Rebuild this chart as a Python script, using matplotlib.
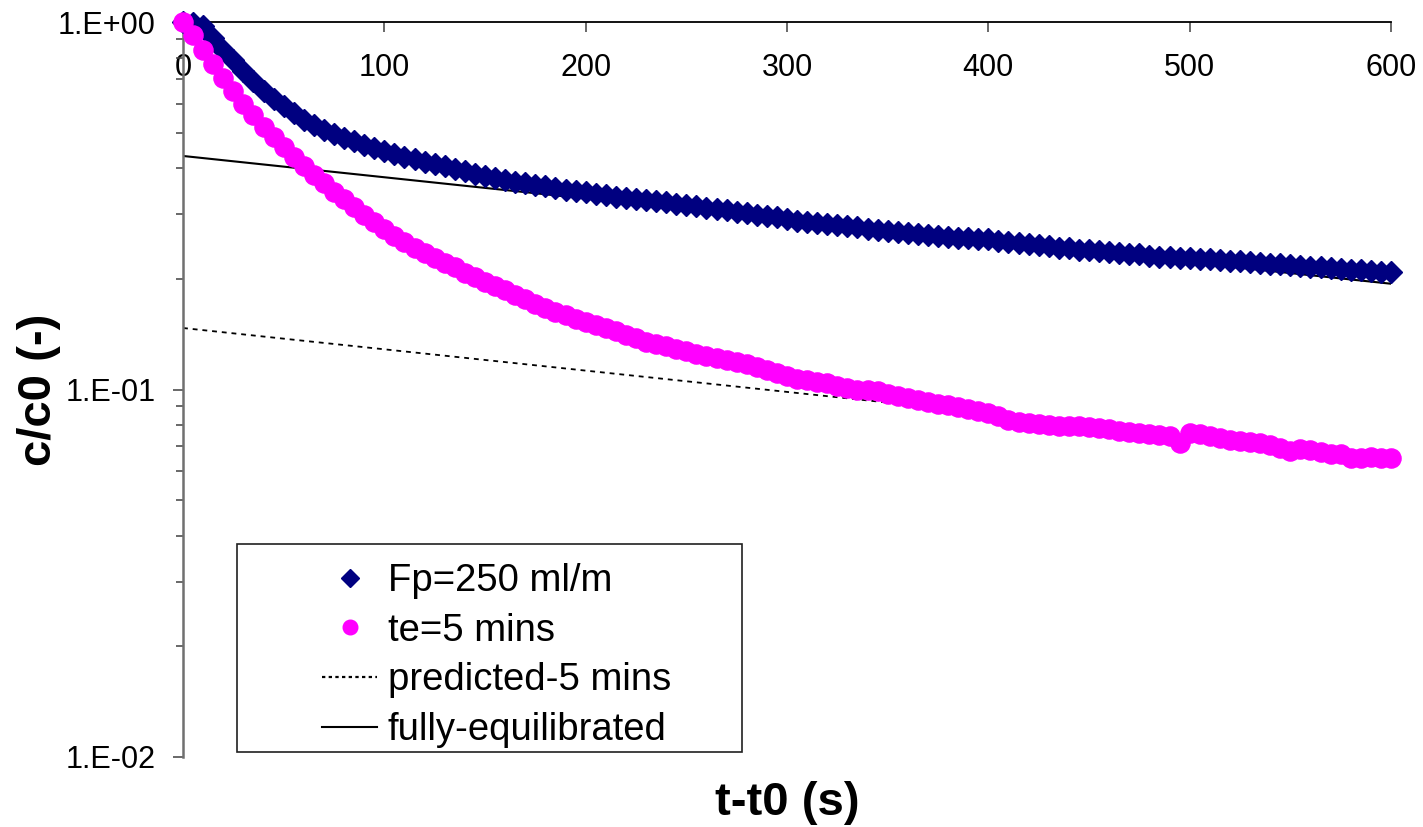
import matplotlib
matplotlib.use("Agg")
import matplotlib.pyplot as plt
from matplotlib.lines import Line2D
from matplotlib.patches import Rectangle

# Time since injection (s), sampled every 5 s
t_fp = [0, 5, 10, 15, 20, 25, 30, 35, 40, 45, 50, 55, 60, 65, 70, 75, 80, 85, 90, 95,
        100, 105, 110, 115, 120, 125, 130, 135, 140, 145, 150, 155, 160, 165, 170, 175,
        180, 185, 190, 195, 200, 205, 210, 215, 220, 225, 230, 235, 240, 245, 250, 255,
        260, 265, 270, 275, 280, 285, 290, 295, 300, 305, 310, 315, 320, 325, 330, 335,
        340, 345, 350, 355, 360, 365, 370, 375, 380, 385, 390, 395, 400, 405, 410, 415,
        420, 425, 430, 435, 440, 445, 450, 455, 460, 465, 470, 475, 480, 485, 490, 495,
        500, 505, 510, 515, 520, 525, 530, 535, 540, 545, 550, 555, 560, 565, 570, 575,
        580, 585, 590, 595, 600]
t_te = list(t_fp)

# Normalised concentration, Fp = 250 ml/m
c_fp = [1.000, 0.995, 0.978, 0.903, 0.839, 0.788, 0.737, 0.692, 0.650, 0.616,
        0.589, 0.564, 0.541, 0.524, 0.509, 0.496, 0.484, 0.473, 0.462, 0.453,
        0.445, 0.437, 0.430, 0.423, 0.417, 0.411, 0.405, 0.399, 0.393, 0.387,
        0.382, 0.377, 0.372, 0.368, 0.364, 0.360, 0.357, 0.354, 0.350, 0.347,
        0.344, 0.341, 0.338, 0.335, 0.332, 0.330, 0.327, 0.325, 0.323, 0.320,
        0.318, 0.315, 0.312, 0.310, 0.307, 0.305, 0.302, 0.299, 0.296, 0.294,
        0.291, 0.288, 0.286, 0.284, 0.282, 0.280, 0.278, 0.276, 0.274, 0.272,
        0.270, 0.268, 0.266, 0.265, 0.263, 0.262, 0.260, 0.259, 0.258, 0.257,
        0.256, 0.254, 0.252, 0.250, 0.249, 0.247, 0.245, 0.243, 0.242, 0.240,
        0.239, 0.238, 0.236, 0.235, 0.234, 0.233, 0.231, 0.230, 0.229, 0.228,
        0.228, 0.227, 0.226, 0.225, 0.224, 0.223, 0.222, 0.221, 0.220, 0.219,
        0.218, 0.217, 0.216, 0.215, 0.214, 0.213, 0.212, 0.211, 0.210, 0.209,
        0.209]

# Normalised concentration, te = 5 mins
c_te = [1.000, 0.922, 0.838, 0.770, 0.703, 0.650, 0.600, 0.558, 0.519, 0.487,
        0.458, 0.430, 0.405, 0.384, 0.364, 0.345, 0.329, 0.314, 0.299, 0.285,
        0.273, 0.262, 0.252, 0.243, 0.235, 0.228, 0.221, 0.215, 0.208, 0.202,
        0.196, 0.191, 0.186, 0.181, 0.176, 0.171, 0.167, 0.163, 0.159, 0.156,
        0.153, 0.150, 0.147, 0.144, 0.141, 0.138, 0.135, 0.133, 0.131, 0.129,
        0.127, 0.125, 0.123, 0.122, 0.120, 0.119, 0.117, 0.115, 0.113, 0.111,
        0.109, 0.107, 0.106, 0.105, 0.104, 0.102, 0.101, 0.100, 0.0995, 0.0990,
        0.0975, 0.0962, 0.0950, 0.0938, 0.0926, 0.0915, 0.0905, 0.0895, 0.0886, 0.0876,
        0.0862, 0.0845, 0.0825, 0.0818, 0.0812, 0.0806, 0.0801, 0.0798, 0.0796, 0.0795,
        0.0792, 0.0788, 0.0780, 0.0773, 0.0765, 0.0762, 0.0758, 0.0752, 0.0745, 0.0714,
        0.0760, 0.0755, 0.0748, 0.0740, 0.0728, 0.0722, 0.0718, 0.0715, 0.0705, 0.0692,
        0.0682, 0.0688, 0.0686, 0.0675, 0.0668, 0.0666, 0.0652, 0.0650, 0.0654, 0.0651,
        0.0650]

# Model curves (exponential decay -> straight on a log axis)
t_model = [0, 600]
c_predicted = [0.147, 0.066]
c_equilibrated = [0.432, 0.194]

series_labels = ["Fp=250 ml/m", "te=5 mins", "predicted-5 mins", "fully-equilibrated"]
x_ticks = [0, 100, 200, 300, 400, 500, 600]
y_ticks = [0.01, 0.1, 1.0]
y_tick_labels = ["1.E-02", "1.E-01", "1.E+00"]

W, H = 1423, 827
fig = plt.figure(figsize=(W / 100, H / 100), dpi=100)
fig.patch.set_facecolor("white")
ax = fig.add_axes([183 / W, 1 - 757 / H, (1391 - 183) / W, (757 - 22) / H])

font = "Liberation Sans"
NAVY = "#000080"
MAGENTA = "#FF00FF"

ax.plot(t_model, c_predicted, color="black", lw=1.3, ls=(0, (2.7, 2.7)), zorder=2)
ax.plot(t_model, c_equilibrated, color="black", lw=1.5, ls="-", zorder=2)
ax.plot(t_fp, c_fp, ls="none", marker="D", ms=10.8, color=NAVY, mec=NAVY, zorder=3, clip_on=False)
ax.plot(t_te, c_te, ls="none", marker="o", ms=13.8, color=MAGENTA, mec=MAGENTA, zorder=4, clip_on=False)

ax.set_yscale("log")
ax.set_xlim(0, 600)
ax.set_ylim(0.01, 1.0)

# x axis sits on the top edge, ticks and labels point into the plot
ax.spines["bottom"].set_visible(False)
ax.spines["right"].set_visible(False)
ax.spines["top"].set_color("black")
ax.spines["top"].set_linewidth(1.3)
ax.spines["left"].set_color("#707070")
ax.spines["left"].set_linewidth(1.8)

ax.xaxis.tick_top()
ax.set_xticks(x_ticks)
ax.set_xticklabels([str(v) for v in x_ticks], fontfamily=font, fontsize=22)
ax.tick_params(axis="x", which="both", direction="in", length=7.5, width=1.1,
               color="#404040", pad=-44, top=True, bottom=False, labeltop=True, labelbottom=False)

ax.set_yticks(y_ticks)
ax.set_yticklabels(y_tick_labels, fontfamily=font, fontsize=22)
ax.tick_params(axis="y", which="major", direction="out", length=7.5, width=1.1,
               color="#404040", pad=12)
ax.tick_params(axis="y", which="minor", direction="out", length=5, width=1.1,
               color="#404040", labelleft=False)

ax.set_xlabel("t-t0 (s)", fontfamily=font, fontsize=34, fontweight="bold", va="center")
ax.xaxis.set_label_coords(0.5, (757 - 803) / 735)
ax.set_ylabel("c/c0 (-)", fontfamily=font, fontsize=34, fontweight="bold", va="center")
ax.yaxis.set_label_coords((39 - 183) / 1208, 0.5)

# Legend drawn over its own frame box
handles = [
    Line2D([], [], ls="none", marker="D", ms=9.5, color=NAVY),
    Line2D([], [], ls="none", marker="o", ms=10.5, color=MAGENTA),
    Line2D([], [], color="black", lw=1.6, ls=(0, (1.5, 1.5))),
    Line2D([], [], color="black", lw=1.5, ls="-"),
]
frame_box = Rectangle((237 / W, 1 - 752 / H), (742 - 237) / W, (752 - 544) / H,
                      transform=fig.transFigure, facecolor="white",
                      edgecolor="#202020", lw=1.2, zorder=5, clip_on=False)
ax.add_artist(frame_box)
leg = ax.legend(handles, series_labels, loc="upper left",
                bbox_to_anchor=(322 / W, 1 - 563 / H), bbox_transform=fig.transFigure,
                frameon=False, prop={"family": font, "size": 27.5},
                handlelength=1.45, handletextpad=0.27, labelspacing=0.36,
                borderpad=0, borderaxespad=0)
leg.set_zorder(6)

fig.savefig("out.png", dpi=100, facecolor="white")
